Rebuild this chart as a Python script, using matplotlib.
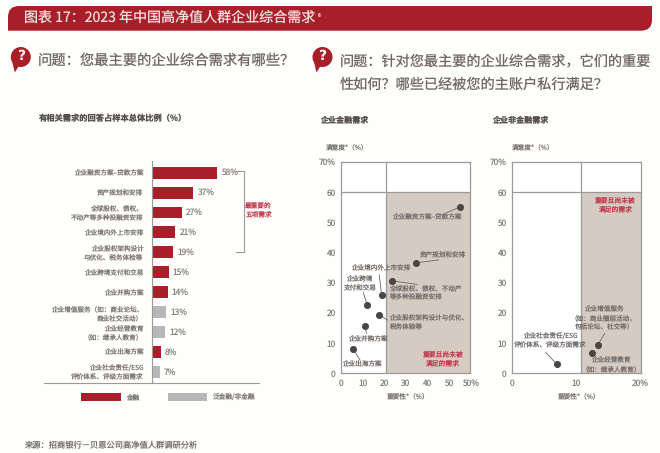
import matplotlib
matplotlib.use("Agg")
import matplotlib.pyplot as plt
from matplotlib.patches import Circle, Polygon, Rectangle, PathPatch
from matplotlib.path import Path

plt.rcParams['font.family'] = ['Noto Sans CJK SC', 'DejaVu Sans']
plt.rcParams['text.hinting'] = 'no_hinting'

# ---------- data ----------
categories = ["企业融资方案–贷款方案", "资产规划和安排", "全球股权、债权、\n不动产等多种投融资安排",
              "企业境内外上市安排", "企业股权架构设计\n与优化、税务体检等", "企业跨境支付和交易",
              "企业并购方案", "企业增值服务（如：商业论坛、\n商业社交活动）", "企业经营教育\n（如：继承人教育）",
              "企业出海方案", "企业社会责任/ESG\n评价体系、评级方面需求"]
shares = [58, 37, 27, 21, 19, 15, 14, 13, 12, 8, 7]
is_finance = [True, True, True, True, True, True, True, False, False, True, False]

fin_x = [55.2, 34.7, 23.5, 18.8, 12.0, 17.7, 10.9, 5.6]
fin_y = [55.0, 36.5, 30.6, 25.9, 22.6, 19.3, 15.5, 7.9]
fin_labels = ["企业融资方案–贷款方案", "资产规划和安排", "全球股权、债权、不动产\n等多种投融资安排",
              "企业境内外上市安排", "企业跨境\n支付和交易", "企业股权架构设计与优化、\n税务体验等",
              "企业并购方案", "企业出海方案"]
non_x = [6.96, 13.3, 12.4]
non_y = [3.0, 9.3, 6.8]
non_labels = ["企业社会责任/ESG\n评价体系、评级方面需求", "企业增值服务\n（如：商业圈层活动，\n包括论坛、社交等）",
              "企业经营教育\n（如：继承人教育）"]
fin_xticklabels = ["0", "10", "20", "30", "40", "50", "50%"]
non_xticklabels = ["0", "10", "20%"]
yticklabels = ["0", "10", "20", "30", "40", "50", "60", "70%"]

RED = "#a81f2a"
GREY_BAR = "#b7b7b7"
BEIGE = "#d5cbc3"
TXT = "#7d7672"
LINE = "#9c9a98"
PINK = "#c23a4c"
DOT = "#4b4645"

W, H = 660, 453
fig = plt.figure(figsize=(W / 100, H / 100), dpi=100, facecolor="#fefefd")


def axes_px(x0, y0, x1, y1, **kw):
    return fig.add_axes([x0 / W, 1 - y1 / H, (x1 - x0) / W, (y1 - y0) / H], **kw)


# overlay in pixel coordinates for page furniture
bg = axes_px(0, 0, W, H)
bg.set_xlim(0, W)
bg.set_ylim(H, 0)
bg.axis("off")

# title band: rounded top-left and bottom-right corners
band = Path([(8, 30.7), (8, 17), (8, 6), (19, 6), (652, 6), (652, 20), (652, 30.7), (641, 30.7), (8, 30.7), (8, 30.7)],
            [Path.MOVETO, Path.LINETO, Path.CURVE3, Path.CURVE3, Path.LINETO, Path.LINETO, Path.CURVE3, Path.CURVE3,
             Path.LINETO, Path.CLOSEPOLY])
bg.add_patch(PathPatch(band, fc=RED, ec="none"))
bg.text(24, 18, "图表 17：2023 年中国高净值人群企业综合需求", color="#f3e4e2", fontsize=10.1, va="center", ha="left")
bg.text(317.5, 16, "8", color="#f3e4e2", fontsize=3.5, va="center", ha="left")


def bubble(cx, cy):
    bg.add_patch(Circle((cx, cy), 10, fc=RED, ec="none"))
    bg.add_patch(Polygon([(cx - 9, cy + 3), (cx - 2, cy + 9), (cx - 6, cy + 15.5)], closed=True, fc=RED, ec="none"))
    bg.text(cx, cy - 0.5, "?", color="white", fontsize=10, fontweight="bold", ha="center", va="center", family="DejaVu Sans")


bubble(20.8, 57)
bubble(322.5, 57)
Q = "#6f6562"
bg.text(38, 61, "问题：您最主要的企业综合需求有哪些？", color=Q, fontsize=10.3, va="center")
bg.text(340, 61, "问题：针对您最主要的企业综合需求，它们的重要", color=Q, fontsize=10.2, va="center")
bg.text(340, 85, "性如何？哪些已经被您的主账户私行满足？", color=Q, fontsize=10.2, va="center")

bg.text(38.5, 119, "有相关需求的回答占样本总体比例（%）", color="#55504e", fontsize=5.95, fontweight="bold", va="center")
bg.text(320.5, 121, "企业金融需求", color="#55504e", fontsize=5.8, fontweight="bold", va="center")
bg.text(492.5, 121, "企业非金融需求", color="#55504e", fontsize=5.8, fontweight="bold", va="center")
bg.text(24, 446, "来源：招商银行－贝恩公司高净值人群调研分析", color="#7a7472", fontsize=5.95, va="center")

# bottom axis, bracket, legend
bg.plot([44, 259], [382.7, 382.7], color=LINE, lw=0.8)
bg.plot([236, 243.7, 243.7, 236], [170.7, 170.7, 252, 252], color=LINE, lw=0.8)
bg.text(258.7, 211, "最重要的\n五项需求", color=PINK, fontsize=4.8, ha="center", va="center", linespacing=1.25)
bg.add_patch(Rectangle((80.7, 392.7), 40, 8.5, fc=RED, ec="none"))
bg.text(126, 397, "金融", color=TXT, fontsize=4.8, va="center")
bg.add_patch(Rectangle((167.7, 392.7), 39.6, 8.5, fc=GREY_BAR, ec="none"))
bg.text(212.7, 397, "泛金融/非金融", color=TXT, fontsize=4.8, va="center")

# axis titles of scatter panels
bg.text(326, 147.7, "满意度*（%）", color=TXT, fontsize=4.8, va="center")
bg.text(511.7, 147.7, "满意度*（%）", color=TXT, fontsize=4.8, va="center")
bg.text(408, 396.7, "重要性*（%）", color=TXT, fontsize=4.8, ha="center", va="center")
bg.text(579, 396.7, "重要性*（%）", color=TXT, fontsize=4.8, ha="center", va="center")

# ---------- bar chart ----------
ax = axes_px(151.7, 160.7, 259, 382.7)
ax.patch.set_alpha(0)
ypos = list(range(len(categories)))
bars = ax.barh(ypos, shares, height=0.6, color=[RED if f else GREY_BAR for f in is_finance])
ax.bar_label(bars, labels=[f"{v}%" for v in shares], padding=3, color="#8b8684", fontsize=6.0)
ax.set_xlim(0, 95)
ax.set_ylim(10.54, -0.6)
ax.set_yticks(ypos, categories)
ax.set_xticks([])
ax.tick_params(axis="y", length=0, pad=6, labelsize=4.75, labelcolor=TXT)
for lab in ax.get_yticklabels():
    lab.set_linespacing(1.25)
for s in ("top", "right", "bottom"):
    ax.spines[s].set_visible(False)
ax.spines["left"].set_color(LINE)
ax.spines["left"].set_linewidth(0.8)


# ---------- scatter panels ----------
def panel(box, xmax, xsplit, xt, xtl, xs, ys):
    a = axes_px(*box)
    a.set_xlim(0, xmax)
    a.set_ylim(0, 70)
    a.add_patch(Rectangle((xsplit, 0), xmax - xsplit, 60, fc=BEIGE, ec="none", zorder=0))
    a.axvline(xsplit, color=LINE, lw=0.9, zorder=1)
    a.axhline(60, color=LINE, lw=0.9, zorder=1)
    a.scatter(xs, ys, s=26, color=DOT, zorder=4, linewidths=0)
    a.set_xticks(xt, xtl)
    a.set_yticks(range(0, 80, 10), yticklabels)
    a.tick_params(length=0, labelsize=6.0, labelcolor="#878482", pad=4)
    for s in a.spines.values():
        s.set_color(LINE)
        s.set_linewidth(0.9)
    return a


def note(a, text, xy, xytext, end=None, ha="center"):
    a.text(xytext[0], xytext[1], text, fontsize=4.75, color="#746e6b", ha=ha, va="center", linespacing=1.3, zorder=5)
    if end is not None:
        a.plot([xy[0], end[0]], [xy[1], end[1]], color="#6b6664", lw=0.6, zorder=3)


a1 = panel((341.3, 161.7, 470, 373.3), 60, 21, range(0, 70, 10), fin_xticklabels, fin_x, fin_y)
fin_text = [(40, 51.7), (47.3, 38.9), (22.2, 26.5), (18.4, 34.8), (8.4, 29.5), (22.2, 16.6), (12.3, 11.2), (9.6, 3.0)]
fin_end = [(48.4, 52.9), (45.3, 37.5), (35.5, 29.4), (17.7, 32.5), (10.3, 26.7), (21.5, 17.6), (11.8, 13.2), (8.7, 4.4)]
fin_ha = ["center", "center", "left", "center", "center", "left", "center", "center"]
for i, lab in enumerate(fin_labels):
    note(a1, lab, (fin_x[i], fin_y[i]), fin_text[i], fin_end[i], fin_ha[i])
a1.text(47.3, 4.7, "重要且尚未被\n满足的需求", color=PINK, fontsize=4.9, ha="center", va="center", linespacing=1.3, zorder=5)

a2 = panel((512.3, 161.7, 640.7, 373.3), 20, 10.66, [0, 10, 20], non_xticklabels, non_x, non_y)
non_text = [(5.9, 10.7), (14.2, 18.3), (15.4, 2.9)]
non_end = [(5.2, 6.9), (14.4, 13.2), (12.6, 5.5)]
for i, lab in enumerate(non_labels):
    note(a2, lab, (non_x[i], non_y[i]), non_text[i], non_end[i])
a2.text(16.1, 55.9, "重要且尚未被\n满足的需求", color=PINK, fontsize=4.9, ha="center", va="center", linespacing=1.3, zorder=5)

fig.savefig("out.png", dpi=100, facecolor=fig.get_facecolor())
